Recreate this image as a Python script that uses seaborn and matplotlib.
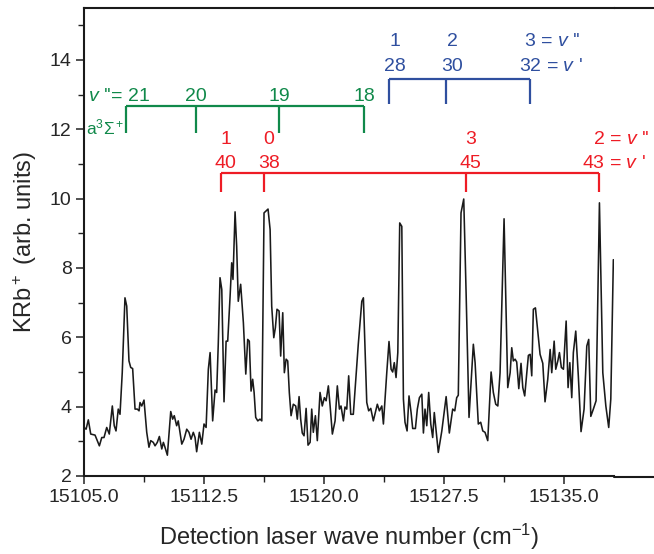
import matplotlib
matplotlib.use("Agg")
import matplotlib.pyplot as plt
from matplotlib.lines import Line2D
from matplotlib.ticker import MultipleLocator, FormatStrFormatter
import seaborn as sns

# spectrum: wave number (cm-1) and KRb+ signal
wavenumber = [
    15105.00, 15105.13, 15105.27, 15105.42, 15105.69, 15105.96, 15106.11, 15106.25, 15106.42, 15106.58,
    15106.77, 15106.89, 15107.00, 15107.14, 15107.25, 15107.39, 15107.56, 15107.67, 15107.81, 15107.92,
    15108.04, 15108.19, 15108.33, 15108.44, 15108.50, 15108.61, 15108.75, 15108.92, 15109.06, 15109.17,
    15109.33, 15109.44, 15109.58, 15109.71, 15109.86, 15109.96, 15110.06, 15110.21, 15110.42, 15110.54,
    15110.64, 15110.79, 15110.89, 15111.11, 15111.25, 15111.42, 15111.56, 15111.69, 15111.83, 15111.94,
    15112.04, 15112.21, 15112.36, 15112.50, 15112.63, 15112.77, 15112.88, 15113.04, 15113.19, 15113.29,
    15113.39, 15113.50, 15113.61, 15113.75, 15113.88, 15113.98, 15114.13, 15114.23, 15114.31, 15114.44,
    15114.54, 15114.64, 15114.79, 15114.96, 15115.11, 15115.23, 15115.33, 15115.44, 15115.54, 15115.63,
    15115.73, 15115.86, 15116.00, 15116.11, 15116.25, 15116.36, 15116.50, 15116.63, 15116.73, 15116.86,
    15116.96, 15117.06, 15117.19, 15117.29, 15117.42, 15117.52, 15117.63, 15117.73, 15117.83, 15117.94,
    15118.08, 15118.23, 15118.33, 15118.44, 15118.54, 15118.64, 15118.75, 15118.88, 15119.00, 15119.13,
    15119.23, 15119.33, 15119.46, 15119.58, 15119.75, 15119.89, 15120.02, 15120.13, 15120.27, 15120.38,
    15120.52, 15120.69, 15120.83, 15120.96, 15121.06, 15121.21, 15121.31, 15121.42, 15121.54, 15121.67,
    15121.83, 15122.14, 15122.36, 15122.46, 15122.67, 15122.79, 15122.92, 15123.08, 15123.33, 15123.46,
    15123.61, 15123.71, 15123.92, 15124.06, 15124.19, 15124.29, 15124.39, 15124.50, 15124.61, 15124.73,
    15124.86, 15124.96, 15125.06, 15125.19, 15125.31, 15125.44, 15125.54, 15125.71, 15125.83, 15125.96,
    15126.11, 15126.21, 15126.31, 15126.42, 15126.54, 15126.67, 15126.79, 15126.89, 15127.14, 15127.36,
    15127.63, 15127.83, 15128.04, 15128.17, 15128.29, 15128.39, 15128.56, 15128.73, 15128.88, 15129.06,
    15129.33, 15129.44, 15129.64, 15129.79, 15129.92, 15130.06, 15130.23, 15130.44, 15130.58, 15130.73,
    15130.86, 15131.00, 15131.25, 15131.48, 15131.63, 15131.73, 15131.83, 15131.94, 15132.04, 15132.17,
    15132.31, 15132.42, 15132.54, 15132.67, 15132.77, 15132.88, 15132.98, 15133.08, 15133.21, 15133.36,
    15133.50, 15133.67, 15133.81, 15133.98, 15134.13, 15134.23, 15134.38, 15134.48, 15134.61, 15134.71,
    15134.83, 15134.96, 15135.13, 15135.25, 15135.36, 15135.48, 15135.58, 15135.73, 15135.89, 15136.06,
    15136.25, 15136.42, 15136.54, 15136.67, 15136.83, 15137.00, 15137.21, 15137.42, 15137.61, 15137.79,
    15137.92, 15138.08,
]
signal = [
    3.40, 3.35, 3.62, 3.21, 3.18, 2.87, 3.11, 3.11, 3.40, 3.21,
    4.02, 3.45, 3.30, 3.93, 3.78, 4.98, 7.14, 6.90, 5.32, 5.13,
    5.10, 3.93, 3.93, 3.88, 4.12, 4.02, 4.19, 3.26, 2.83, 3.02,
    2.97, 2.87, 2.97, 3.14, 2.78, 2.97, 2.83, 2.60, 3.86, 3.64,
    3.74, 3.45, 3.59, 2.92, 3.06, 3.35, 3.26, 3.06, 3.26, 3.11,
    2.70, 3.26, 2.92, 3.50, 3.40, 5.08, 5.56, 3.59, 4.48, 4.41,
    5.80, 7.72, 7.38, 4.14, 5.89, 5.89, 7.19, 8.15, 7.67, 9.62,
    8.63, 7.04, 7.53, 6.42, 4.94, 5.94, 5.89, 4.45, 4.79, 4.41,
    3.69, 3.59, 3.64, 3.59, 9.59, 9.64, 9.70, 9.11, 6.90, 5.99,
    6.28, 6.81, 6.76, 5.46, 6.71, 4.98, 5.37, 5.32, 4.41, 3.74,
    4.07, 4.02, 3.64, 4.29, 3.64, 3.24, 3.16, 3.95, 2.89, 2.97,
    3.93, 3.26, 3.74, 3.02, 4.41, 4.02, 4.26, 4.17, 4.60, 4.02,
    3.21, 3.59, 4.60, 3.93, 4.02, 3.59, 3.99, 3.93, 4.89, 3.78,
    3.78, 5.80, 7.04, 7.14, 4.12, 3.88, 3.95, 3.59, 4.07, 3.88,
    4.02, 3.50, 4.98, 5.88, 5.08, 5.00, 5.27, 4.84, 5.56, 9.30,
    9.20, 4.22, 3.55, 3.30, 4.31, 3.83, 3.37, 3.37, 3.93, 4.26,
    4.36, 3.24, 3.93, 3.45, 4.41, 3.50, 3.11, 3.83, 2.68, 3.30,
    4.29, 3.24, 3.93, 3.88, 4.26, 4.33, 9.59, 9.99, 7.24, 3.69,
    5.80, 5.27, 3.50, 3.55, 3.30, 3.26, 3.02, 5.00, 4.41, 4.07,
    4.02, 4.98, 9.42, 4.55, 4.98, 5.70, 5.32, 5.37, 5.29, 4.52,
    5.25, 4.55, 4.31, 4.98, 5.48, 5.51, 4.89, 6.81, 6.85, 6.14,
    5.51, 5.25, 4.14, 4.79, 5.65, 4.98, 5.89, 5.08, 5.32, 5.56,
    5.13, 5.08, 6.47, 4.55, 5.27, 4.26, 5.56, 6.18, 4.89, 3.28,
    3.93, 5.75, 5.94, 3.72, 3.93, 4.17, 9.88, 4.98, 4.02, 3.40,
    4.22, 8.24,
]
assert len(wavenumber) == len(signal)

# vibrational assignments (bracket tick positions and labels)
green_pos = [15107.63, 15112.00, 15117.19, 15122.50]
green_lab = ["21", "20", "19", "18"]

blue_pos = [15124.06, 15127.63, 15132.88]
blue_vpp = ["1", "2", "3"]
blue_vp = ["28", "30", "32"]

red_pos = [15113.54, 15116.27, 15128.86, 15137.19]
red_vpp = ["1", "0", "3", "2"]
red_vp = ["40", "38", "45", "43"]

GREEN = "#10894a"
BLUE = "#2f4f9f"
RED = "#ee1c25"
INK = "#1a1a1a"

sns.set_style("ticks")
plt.rcParams["font.family"] = ["Liberation Sans", "DejaVu Sans"]
plt.rcParams["mathtext.fontset"] = "custom"
plt.rcParams["mathtext.rm"] = "Liberation Sans"
plt.rcParams["mathtext.it"] = "Liberation Sans:italic"

fig = plt.figure(figsize=(6.54, 5.54), dpi=100)
ax = fig.add_axes([84 / 654, 78 / 554, 530 / 654, 468 / 554])

sns.lineplot(x=wavenumber, y=signal, ax=ax, color=INK, lw=1.15, estimator=None, sort=False)

ax.set_xlim(15105, 15138.12)
ax.set_ylim(2, 15.5)
ax.xaxis.set_major_locator(MultipleLocator(7.5))
ax.xaxis.set_minor_locator(MultipleLocator(3.75))
ax.xaxis.set_major_formatter(FormatStrFormatter("%.1f"))
ax.yaxis.set_major_locator(MultipleLocator(2))
ax.yaxis.set_minor_locator(MultipleLocator(1))
ax.tick_params(which="major", direction="out", length=6, width=1.1, labelsize=14, color="#222222", pad=3)
ax.tick_params(which="minor", direction="out", length=4, width=1.0, color="#222222")
for side in ["left", "bottom", "top"]:
    ax.spines[side].set_linewidth(1.5)
    ax.spines[side].set_color(INK)
ax.spines["right"].set_visible(False)

# outer frame continues past the plot area on the right
fig.add_artist(Line2D([614 / 654, 1.0], [546 / 554, 546 / 554], color=INK, lw=1.5, transform=fig.transFigure))
fig.add_artist(Line2D([614 / 654, 1.0], [77 / 554, 77 / 554], color=INK, lw=1.5, transform=fig.transFigure))

ax.set_xlabel(r"Detection laser wave number (cm$^{-1}$)", fontsize=17, labelpad=12)
ax.set_ylabel(r"KRb$^+$ (arb. units)", fontsize=17, labelpad=8)

fs = 14

# green bracket: a3Sigma+ v''
ax.hlines(12.68, green_pos[0], green_pos[-1], color=GREEN, lw=1.6)
ax.vlines(green_pos, 11.88, 12.68, color=GREEN, lw=1.6)
ax.text(15105.25, 12.96, r"$v$ ''= " + green_lab[0], color=GREEN, fontsize=fs, ha="left", va="center")
for p, lab in zip(green_pos[1:], green_lab[1:]):
    ax.text(p, 12.96, lab, color=GREEN, fontsize=fs, ha="center", va="center")
ax.text(15105.15, 12.04, r"a$^3$Σ$^+$", color=GREEN, fontsize=12.5, ha="left", va="center")

# blue bracket
ax.hlines(13.45, blue_pos[0], blue_pos[-1], color=BLUE, lw=1.6)
ax.vlines(blue_pos, 12.73, 13.45, color=BLUE, lw=1.6)
for i, p in enumerate(blue_pos):
    if i == len(blue_pos) - 1:
        ax.text(p - 0.38, 14.52, blue_vpp[i] + r" = $v$ ''", color=BLUE, fontsize=fs, ha="left", va="center")
        ax.text(p - 0.69, 13.80, blue_vp[i] + r" = $v$ '", color=BLUE, fontsize=fs, ha="left", va="center")
    else:
        ax.text(p + 0.38, 14.52, blue_vpp[i], color=BLUE, fontsize=fs, ha="center", va="center")
        ax.text(p + 0.38, 13.80, blue_vp[i], color=BLUE, fontsize=fs, ha="center", va="center")

# red bracket
ax.hlines(10.74, red_pos[0], red_pos[-1], color=RED, lw=1.6)
ax.vlines(red_pos, 10.19, 10.74, color=RED, lw=1.6)
for i, p in enumerate(red_pos):
    if i == len(red_pos) - 1:
        ax.text(15136.81, 11.72, red_vpp[i] + r" = $v$ ''", color=RED, fontsize=fs, ha="left", va="center", clip_on=False)
        ax.text(15136.13, 11.00, red_vp[i] + r" = $v$ '", color=RED, fontsize=fs, ha="left", va="center", clip_on=False)
    else:
        ax.text(p + 0.3, 11.72, red_vpp[i], color=RED, fontsize=fs, ha="center", va="center")
        ax.text(p + 0.3, 11.00, red_vp[i], color=RED, fontsize=fs, ha="center", va="center")

fig.savefig("out.png", dpi=100)
